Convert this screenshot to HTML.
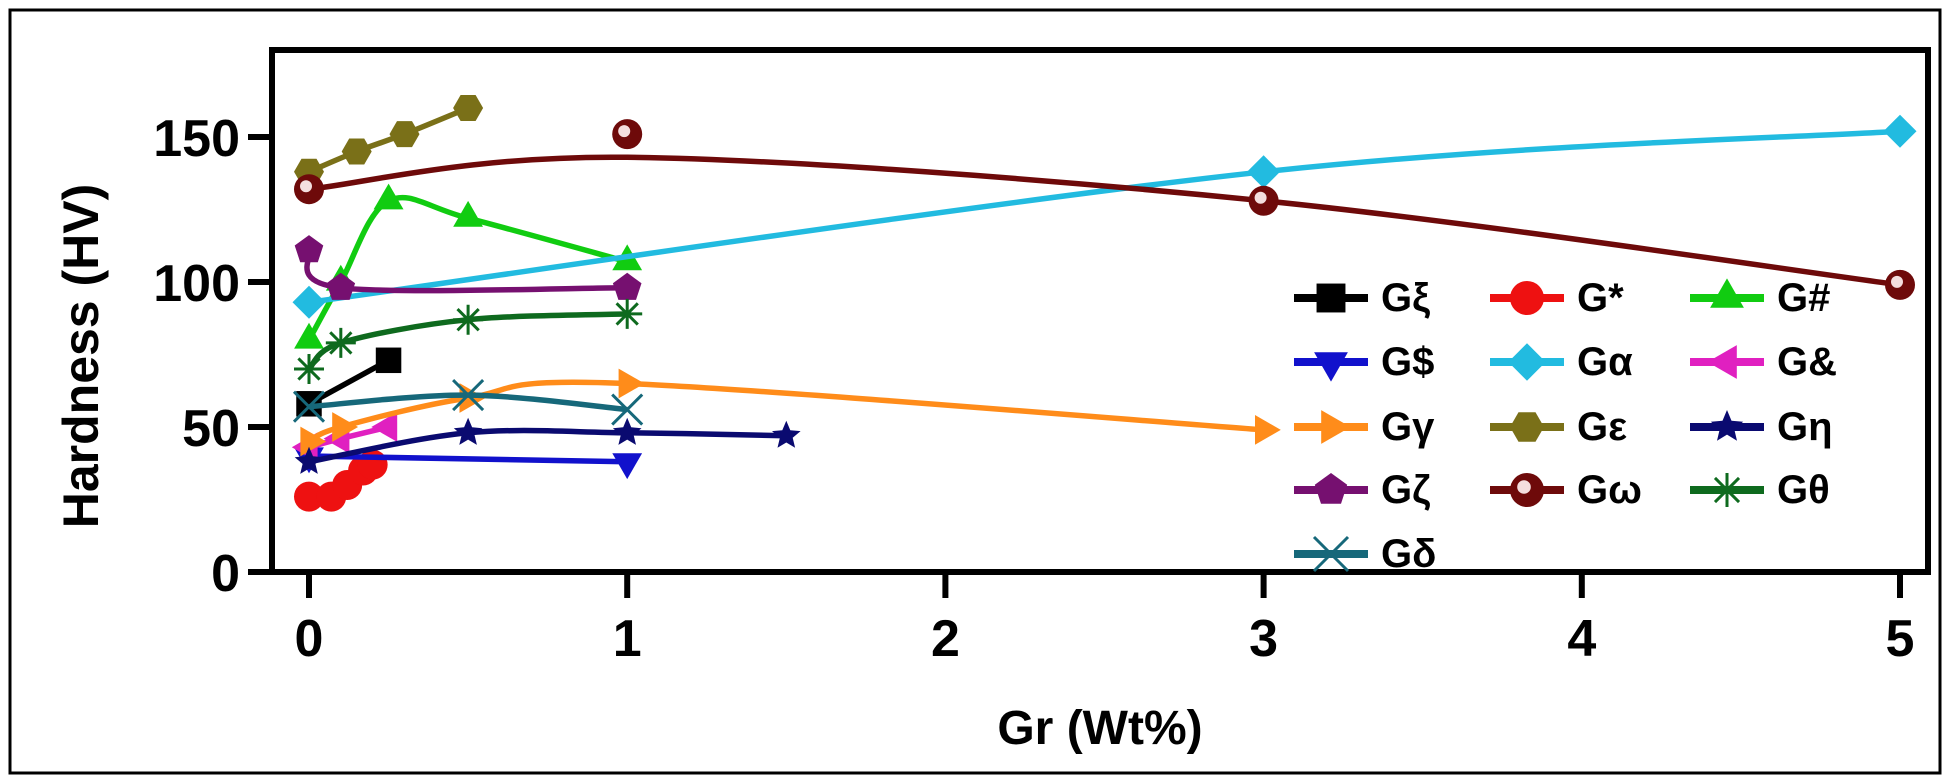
<!DOCTYPE html>
<html><head><meta charset="utf-8"><style>
html,body{margin:0;padding:0;background:#fff;}
svg{display:block;font-family:"Liberation Sans",Arial,sans-serif;font-weight:bold;}
</style></head><body>
<svg id="chart" width="1950" height="783" viewBox="0 0 1950 783" xmlns="http://www.w3.org/2000/svg">
<rect x="10" y="10" width="1930" height="763" fill="#fff" stroke="#000" stroke-width="3"/>
<g id="series"></g>
<rect x="272" y="50" width="1656" height="522" fill="none" stroke="#000" stroke-width="6"/>
<g id="axes"></g>
<g id="legend"></g>
<text x="1100" y="744" font-size="48" text-anchor="middle">Gr (Wt%)</text>
<text transform="translate(98,356) rotate(-90)" font-size="50" text-anchor="middle">Hardness (HV)</text>
</svg>
<script>
const xTicks = [0,1,2,3,4,5];
const yTicks = [0,50,100,150];
const names = ["Gξ","G*","G#","G$","Gα","G&","Gγ","Gε","Gη","Gζ","Gω","Gθ","Gδ"];
const colors = ["#000000","#ee1111","#11cc11","#1111cc","#22bbe0","#e020c0","#ff8c1a","#7a7018","#0a0a70","#761070","#6e0a0a","#0e6a1e","#16687a"];
const shapes = ["square","circle","tri-up","tri-down","diamond","tri-left","tri-right","hexagon","star","pentagon","ball","asterisk","cross"];
const xGxi = [0,0.25];            const yGxi = [58,73];
const xGstar = [0,0.07,0.12,0.17,0.2]; const yGstar = [26,26,30,35,37];
const xGhash = [0,0.1,0.25,0.5,1]; const yGhash = [80,100,128,122,107];
const xGdollar = [0,1];           const yGdollar = [40,38];
const xGalpha = [0,3,5];          const yGalpha = [93,138,152];
const xGamp = [0,0.1,0.25];       const yGamp = [43,46,50];
const xGgamma = [0,0.1,0.5,1,3];  const yGgamma = [45,50,60,65,49];
const xGeps = [0,0.15,0.3,0.5];   const yGeps = [138,145,151,160];
const xGeta = [0,0.5,1,1.5];      const yGeta = [38,48,48,47];
const xGzeta = [0,0.1,1];         const yGzeta = [111,98,98];
const xGomega = [0,1,3,5];        const yGomega = [132,151,128,99];
const yGomegaFit = [132,143,128,99];
const xGtheta = [0,0.1,0.5,1];    const yGtheta = [70,79,87,89];
const xGdelta = [0,0.5,1];        const yGdelta = [57,61,56];
const xs = [xGxi,xGstar,xGhash,xGdollar,xGalpha,xGamp,xGgamma,xGeps,xGeta,xGzeta,xGomega,xGtheta,xGdelta];
const ys = [yGxi,yGstar,yGhash,yGdollar,yGalpha,yGamp,yGgamma,yGeps,yGeta,yGzeta,yGomega,yGtheta,yGdelta];

const NS="http://www.w3.org/2000/svg";
const X0=309, XU=318.2, Y0=572, YU=2.9;
const sx=v=>X0+v*XU, sy=v=>Y0-v*YU;
function mk(tag,attrs,parent){const e=document.createElementNS(NS,tag);for(const k in attrs)e.setAttribute(k,attrs[k]);parent.appendChild(e);return e;}

const axes=document.getElementById('axes');
xTicks.forEach(t=>{
  const l=mk('line',{x1:sx(t),x2:sx(t),y1:574,y2:598,stroke:'#000','stroke-width':6},axes);
  
  
  const tx=mk('text',{x:sx(t),y:656,'font-size':52,'text-anchor':'middle'},axes);
  tx.textContent=t;
  
  
});
yTicks.forEach(t=>{
  const l=mk('line',{x1:248,x2:272,y1:sy(t),y2:sy(t),stroke:'#000','stroke-width':6},axes);
  
  
  const tx=mk('text',{x:240,y:sy(t)+19,'font-size':52,'text-anchor':'end'},axes);
  tx.textContent=t;
  
  
});

function smoothPath(pts){
  if(pts.length<3){return 'M'+pts.map(p=>p.join(',')).join(' L');}
  let d='M'+pts[0][0]+','+pts[0][1];
  for(let i=0;i<pts.length-1;i++){
    const p0=pts[Math.max(0,i-1)],p1=pts[i],p2=pts[i+1],p3=pts[Math.min(pts.length-1,i+2)];
    const c1=[p1[0]+(p2[0]-p0[0])/6,p1[1]+(p2[1]-p0[1])/6];
    const c2=[p2[0]-(p3[0]-p1[0])/6,p2[1]-(p3[1]-p1[1])/6];
    d+=` C${c1[0]},${c1[1]} ${c2[0]},${c2[1]} ${p2[0]},${p2[1]}`;
  }
  return d;
}
function marker(g,shape,cx,cy,col,r){
  let e;
  const poly=(n,rot,rr)=>{rr=rr||r;const p=[];for(let i=0;i<n;i++){const a=rot+i*2*Math.PI/n;p.push((cx+rr*Math.cos(a)).toFixed(1)+','+(cy+rr*Math.sin(a)).toFixed(1));}return p.join(' ');};
  switch(shape){
    case 'square': e=mk('rect',{x:cx-r*0.85,y:cy-r*0.85,width:r*1.7,height:r*1.7,fill:col},g);break;
    case 'circle': e=mk('circle',{cx,cy,r,fill:col},g);break;
    case 'ball': e=mk('circle',{cx,cy,r,fill:col},g);mk('circle',{cx:cx-3,cy:cy-3,r:r*0.4,fill:'#f4dede'},g);break;
    case 'tri-up': e=mk('polygon',{points:poly(3,-Math.PI/2,r*1.15),fill:col},g);break;
    case 'tri-down': e=mk('polygon',{points:poly(3,Math.PI/2,r*1.15),fill:col},g);break;
    case 'tri-left': e=mk('polygon',{points:poly(3,Math.PI,r*1.15),fill:col},g);break;
    case 'tri-right': e=mk('polygon',{points:poly(3,0,r*1.15),fill:col},g);break;
    case 'diamond': e=mk('polygon',{points:poly(4,0,r*1.1),fill:col},g);break;
    case 'hexagon': e=mk('polygon',{points:poly(6,0),fill:col},g);break;
    case 'pentagon': e=mk('polygon',{points:poly(5,-Math.PI/2),fill:col},g);break;
    case 'star':{const p=[];for(let i=0;i<10;i++){const a=-Math.PI/2+i*Math.PI/5,rr=i%2?r*0.45:r;p.push((cx+rr*Math.cos(a)).toFixed(1)+','+(cy+rr*Math.sin(a)).toFixed(1));}e=mk('polygon',{points:p.join(' '),fill:col},g);break;}
    case 'asterisk':{let d='';for(let i=0;i<4;i++){const a=i*Math.PI/4;d+=`M${cx-r*Math.cos(a)},${cy-r*Math.sin(a)}L${cx+r*Math.cos(a)},${cy+r*Math.sin(a)}`;}e=mk('path',{d,stroke:col,'stroke-width':3,fill:'none'},g);break;}
    case 'cross': e=mk('path',{d:`M${cx-r},${cy-r}L${cx+r},${cy+r}M${cx-r},${cy+r}L${cx+r},${cy-r}`,stroke:col,'stroke-width':3,fill:'none'},g);break;
  }
  return e;
}

const sg=document.getElementById('series');
names.forEach((nm,i)=>{
  const g=mk('g',{},sg);
  
  
  const lineY = shapes[i]==='ball' ? yGomegaFit : ys[i];
  const d=smoothPath(xs[i].map((v,k)=>[sx(v),sy(lineY[k])]));
  const path=mk('path',{d,fill:'none',stroke:colors[i],'stroke-width':5.5},g);
  
  
  xs[i].forEach((v,k)=>{
    const m=marker(g,shapes[i],sx(v),sy(ys[i][k]),colors[i],15);
    
    
  });
});

const lg=document.getElementById('legend');
const colX=[1331,1527,1727], rowY=[298,362,427,490,554];
names.forEach((nm,i)=>{
  const cx=colX[i%3], cy=rowY[Math.floor(i/3)];
  const g=mk('g',{},lg);
  
  
  mk('line',{x1:cx-37,x2:cx+37,y1:cy,y2:cy,stroke:colors[i],'stroke-width':8},g);
  marker(g,shapes[i],cx,cy,colors[i],17);
  const t=mk('text',{x:cx+50,y:cy+13,'font-size':40},g);
  t.textContent=nm;
});
</script>
</body></html>
